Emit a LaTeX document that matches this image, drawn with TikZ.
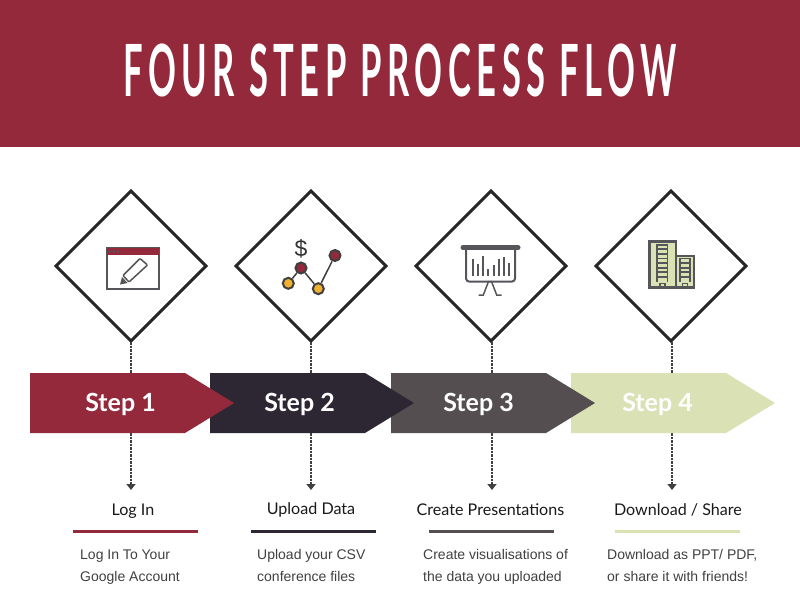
\documentclass[tikz,border=0pt]{standalone}
\usepackage{fontspec}
\usetikzlibrary{shapes.geometric,arrows.meta}
\setmainfont{Lato}
\newfontfamily\titlefont[FakeStretch=0.48,LetterSpace=7.7]{Lato}
\newfontfamily\bodyfont{Liberation Sans}
\definecolor{wine}{HTML}{93293B}
\definecolor{ink}{HTML}{2D2733}
\definecolor{slate}{HTML}{544E50}
\definecolor{sage}{HTML}{D9E1B5}
\definecolor{amber}{HTML}{F0B030}
\definecolor{icongray}{HTML}{55565A}
\tikzset{
	frame/.style={diamond,draw=black!85,line width=3pt,minimum width=150pt,minimum height=150pt,inner sep=0pt,outer sep=0pt},
	dotline/.style={draw=black!75,line width=1.6pt,dash pattern=on 2.5pt off 1pt},
	steptext/.style={text=white,font=\fontsize{25}{28}\selectfont\bfseries},
	headtext/.style={text=black!90,font=\fontsize{16.1}{18}\selectfont},
	desctext/.style={text=black!75,font=\bodyfont\fontsize{14}{22}\selectfont,align=left,anchor=north west,inner sep=0pt},
	iconline/.style={draw=icongray,line width=2pt},
	dot/.style={circle,draw=black!75,line width=2pt,minimum size=11pt,inner sep=0pt}
}
\begin{document}
\begin{tikzpicture}[x=1pt,y=-1pt]
	\useasboundingbox (0,0) rectangle (800,615);
	\fill[wine] (0,0) rectangle (800,147);
	\node[text=white,font=\titlefont\fontsize{72}{80}\selectfont\bfseries] (title) at (400,70) {FOUR STEP PROCESS FLOW};
	% diamonds and the dotted lines, these run behind the arrows
	\foreach \i/\x/\lx in {1/131/131,2/311/311,3/491/492,4/671/672} {
		\node[frame] (frame\i) at (\x,266) {};
		\coordinate (tip\i) at (\lx,490);
		\draw[dotline,-{Triangle[length=6pt,width=9pt]}] (\lx,342) -- (tip\i);
	}
	% last arrow first, each one lies on the next
	\foreach \i/\xa/\xb/\xc/\col/\tx in {4/571/726/775/sage/657.5,3/391/546/595/slate/478.5,2/210/365/414/ink/299.5,1/30/185/234/wine/120.5} {
		\fill[\col] (\xa,373) -- (\xb,373) -- (\xc,403) -- (\xb,433) -- (\xa,433) -- cycle;
		\node[steptext] (step\i) at (\tx,404) {Step \i};
	}
	% headings, rules and texts
	\node[headtext] (head1) at (133,511.5) {Log In};
	\node[headtext] (head2) at (311,510) {Upload Data};
	\node[headtext] (head3) at (490.5,510) {Create Presentations};
	\node[headtext] (head4) at (678,510) {Download / Share};
	\foreach \x/\col in {73/wine,251/ink,429/slate,615/sage} {
		\fill[\col] (\x,529.5) rectangle (\x+125,532.5);
	}
	\node[desctext] (desc1) at (80,549.5) {Log In To Your\\Google Account};
	\node[desctext] (desc2) at (257,549.5) {Upload your CSV\\conference files};
	\node[desctext] (desc3) at (423,549.5) {Create visualisations of\\the data you uploaded};
	\node[desctext] (desc4) at (607,549.5) {Download as PPT/ PDF,\\or share it with friends!};
	% window and pencil
	\draw[iconline] (107,248) rectangle (159,289);
	\fill[wine] (107,248) rectangle (159,255);
	\foreach \x in {110,114,118} {
		\fill[icongray] (\x,251.5) circle (1.3pt);
	}
	\draw[iconline,line width=1.5pt,rounded corners=1pt] (140,258.5) -- (147.5,265) -- (129,282) -- (123,275.5) -- cycle;
	\fill[icongray] (120,284.5) -- (122,277) -- (127.5,283) -- cycle;
	% dollar and line chart
	\node[text=black!80,font=\fontsize{23}{24}\selectfont\bodyfont,inner sep=0pt] (dollar) at (301,249) {\$};
	\node[dot,fill=amber] (pta) at (288.3,283.3) {};
	\node[dot,fill=wine] (ptb) at (301,268) {};
	\node[dot,fill=amber] (ptc) at (318.3,288.7) {};
	\node[dot,fill=wine] (ptd) at (335,255.5) {};
	\draw[black!75,line width=1.5pt] (pta) -- (ptb) -- (ptc) -- (ptd);
	% board with bars
	\draw[iconline,rounded corners=3pt] (466,248) -- (466,281.5) -- (515,281.5) -- (515,248);
	\draw[icongray,line width=5pt,line cap=round] (463,247.5) -- (518,247.5);
	\foreach \x/\top in {472.7/259.3,477.7/264,483/256,488.3/269.3,493.7/265,498.7/259.3,504/257.3,509.3/263.3} {
		\draw[iconline] (\x,276) -- (\x,\top);
	}
	\draw[iconline,line width=1.5pt] (478.7,295) -- (483.3,295) -- (488.5,281.5) -- (491.5,281.5) -- (496.7,295) -- (501.7,295);
	% two buildings
	\draw[iconline,fill=sage,line width=2.5pt] (649.5,241.5) rectangle (676,287.5);
	\draw[iconline,fill=sage,line width=2.5pt] (676,256) rectangle (694,287.5);
	\foreach \xa/\xb/\ya/\n in {657/667.5/243.5/8,680/690/258/5} {
		\draw[iconline,line width=1.5pt] (\xa,\ya) -- (\xa,281.5) (\xb,\ya) -- (\xb,281.5);
		\foreach \k in {1,...,\n} {
			\draw[iconline,line width=1.8pt] (\xa,281.5-4.6*\k) -- (\xb,281.5-4.6*\k);
		}
	}
	\draw[iconline,line width=1.5pt] (660,288) rectangle (665,283.5);
	\draw[iconline,line width=1.5pt] (682.5,288) rectangle (687.5,283.5);
\end{tikzpicture}
\end{document}
